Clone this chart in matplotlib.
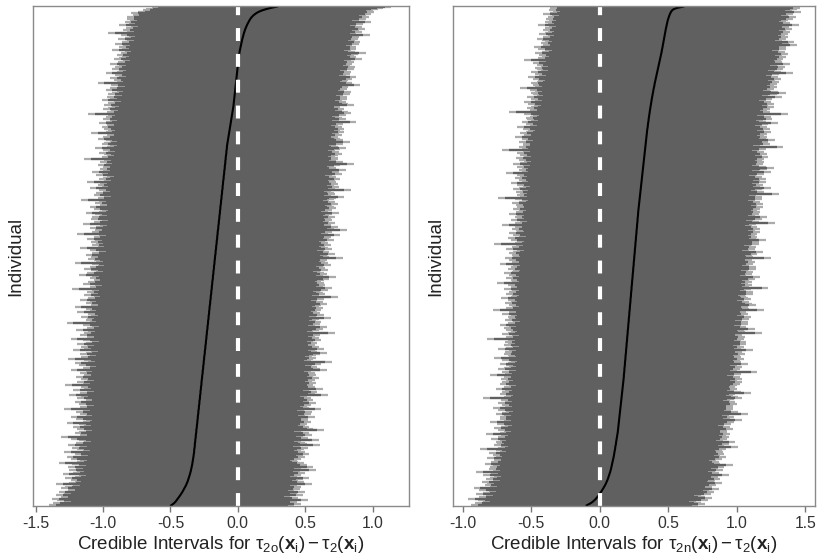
import numpy as np
import matplotlib.pyplot as plt

plt.rcParams['font.family'] = ['Liberation Sans', 'DejaVu Sans']
plt.rcParams['mathtext.fontset'] = 'custom'
plt.rcParams['mathtext.rm'] = 'Liberation Sans'
plt.rcParams['mathtext.it'] = 'Liberation Sans:italic'
plt.rcParams['mathtext.bf'] = 'Liberation Sans:bold'

# individuals sorted by posterior mean, bottom -> top
# bounds in hundredths, means in thousandths
left_lower = [
    -140, -133, -137, -129, -134, -138, -128, -131, -135, -127,
    -129, -133, -126, -124, -131, -128, -122, -135, -125, -121,
    -124, -119, -128, -121, -118, -130, -122, -119, -125, -117,
    -120, -126, -118, -123, -133, -119, -117, -124, -120, -127,
    -116, -121, -118, -129, -115, -119, -123, -117, -126, -116,
    -120, -114, -118, -124, -116, -131, -117, -115, -121, -118,
    -113, -119, -116, -122, -114, -118, -127, -115, -113, -120,
    -116, -124, -113, -117, -112, -120, -115, -129, -114, -117,
    -112, -118, -115, -121, -113, -111, -119, -116, -125, -114,
    -117, -112, -122, -114, -111, -116, -128, -113, -115, -119,
    -112, -116, -110, -120, -114, -111, -117, -113, -124, -112,
    -115, -110, -118, -113, -121, -111, -114, -126, -112, -116,
    -110, -117, -113, -109, -122, -114, -111, -116, -112, -119,
    -113, -108, -115, -124, -110, -112, -117, -109, -114, -111,
    -120, -109, -112, -108, -115, -111, -127, -110, -113, -108,
    -112, -116, -109, -111, -107, -119, -110, -113, -108, -121,
    -109, -106, -113, -110, -117, -108, -111, -107, -114, -109,
    -105, -112, -108, -123, -107, -110, -106, -115, -109, -111,
    -107, -104, -110, -108, -118, -106, -112, -105, -109, -114,
    -106, -110, -104, -108, -121, -105, -107, -111, -104, -109,
    -113, -105, -108, -103, -110, -106, -117, -104, -108, -105,
    -102, -109, -106, -112, -104, -107, -103, -119, -105, -108,
    -106, -103, -110, -105, -102, -115, -104, -107, -101, -109,
    -104, -108, -102, -106, -113, -103, -101, -107, -104, -110,
    -102, -100, -106, -103, -116, -101, -104, -99, -107, -102,
    -105, -100, -103, -98, -110, -101, -104, -99, -102, -112,
    -99, -103, -100, -97, -105, -101, -98, -108, -100, -102,
    -97, -100, -104, -98, -96, -102, -99, -114, -98, -101,
    -97, -99, -103, -96, -100, -98, -106, -97, -95, -101,
    -99, -95, -98, -104, -96, -100, -97, -94, -109, -98,
    -96, -99, -95, -101, -97, -94, -103, -98, -95, -100,
    -93, -98, -96, -111, -95, -97, -94, -100, -96, -93,
    -99, -94, -96, -92, -101, -95, -93, -97, -91, -96,
    -93, -90, -98, -92, -95, -89, -94, -91, -104, -90,
    -92, -89, -95, -88, -91, -87, -98, -90, -88, -93,
    -86, -91, -88, -95, -87, -89, -85, -92, -88, -86,
    -90, -85, -87, -84, -93, -86, -83, -88, -85, -91,
    -83, -86, -82, -89, -84, -81, -87, -83, -96, -82,
    -85, -80, -83, -79, -88, -81, -78, -84, -80, -82,
    -77, -82, -78, -75, -79, -74, -70, -68, -64, -60,
]
left_upper = [
    42, 47, 40, 44, 52, 41, 45, 39, 48, 43,
    44, 50, 42, 46, 41, 47, 44, 55, 43, 49,
    45, 48, 53, 44, 47, 42, 50, 46, 58, 45,
    47, 56, 51, 46, 49, 45, 44, 47, 43, 50,
    48, 53, 46, 50, 47, 49, 52, 46, 61, 51,
    50, 47, 60, 49, 52, 48, 55, 50, 53, 47,
    64, 56, 49, 53, 50, 51, 48, 54, 52, 50,
    52, 57, 50, 54, 51, 55, 49, 62, 53, 51,
    54, 50, 58, 53, 56, 52, 54, 51, 67, 57,
    55, 59, 53, 63, 54, 57, 56, 52, 58, 55,
    57, 53, 60, 56, 58, 55, 57, 54, 66, 61,
    56, 59, 55, 62, 57, 70, 54, 56, 58, 55,
    58, 61, 66, 59, 57, 64, 55, 60, 57, 56,
    59, 56, 62, 58, 60, 57, 61, 59, 72, 56,
    60, 63, 58, 66, 57, 61, 59, 62, 58, 60,
    69, 58, 64, 60, 61, 59, 62, 57, 63, 60,
    62, 66, 61, 63, 59, 64, 62, 74, 60, 65,
    63, 61, 67, 62, 70, 63, 65, 61, 64, 62,
    64, 68, 62, 73, 63, 66, 64, 61, 67, 65,
    65, 63, 69, 64, 67, 65, 66, 64, 78, 68,
    66, 72, 65, 68, 64, 70, 67, 65, 69, 66,
    67, 65, 71, 68, 66, 69, 76, 67, 64, 70,
    81, 71, 67, 74, 69, 66, 72, 68, 70, 69,
    69, 72, 68, 70, 75, 67, 70, 68, 73, 71,
    70, 74, 69, 72, 68, 71, 73, 79, 69, 72,
    71, 69, 84, 72, 70, 75, 71, 74, 70, 73,
    72, 76, 71, 73, 70, 77, 72, 75, 80, 71,
    73, 71, 76, 86, 72, 78, 73, 74, 74, 72,
    74, 77, 73, 75, 72, 76, 80, 74, 73, 78,
    75, 83, 78, 76, 73, 74, 77, 75, 72, 79,
    76, 79, 75, 77, 74, 78, 76, 88, 75, 80,
    77, 75, 80, 78, 84, 82, 77, 79, 76, 76,
    86, 82, 78, 80, 77, 81, 79, 81, 78, 83,
    80, 84, 79, 81, 80, 82, 91, 79, 85, 81,
    82, 85, 81, 88, 80, 83, 82, 84, 81, 86,
    84, 87, 83, 85, 82, 86, 84, 92, 83, 88,
    86, 89, 95, 87, 84, 88, 86, 88, 85, 90,
    88, 91, 87, 89, 86, 90, 98, 88, 87, 92,
    90, 94, 89, 92, 88, 93, 91, 99, 90, 95,
    93, 97, 95, 99, 96, 101, 100, 104, 108, 114,
]
left_mean = [
    -495, -482, -471, -462, -455, -447, -440, -434, -428, -422,
    -416, -410, -405, -400, -395, -390, -385, -381, -377, -373,
    -370, -367, -364, -361, -358, -355, -353, -350, -348, -346,
    -344, -342, -340, -338, -337, -335, -334, -332, -331, -329,
    -328, -327, -325, -324, -324, -323, -321, -320, -319, -319,
    -318, -316, -316, -315, -313, -312, -312, -311, -309, -308,
    -308, -307, -305, -304, -304, -302, -301, -300, -300, -298,
    -297, -297, -296, -294, -293, -293, -292, -290, -289, -289,
    -288, -286, -285, -285, -284, -282, -281, -281, -280, -278,
    -277, -277, -276, -274, -274, -273, -271, -270, -270, -269,
    -268, -267, -265, -265, -264, -262, -261, -261, -260, -258,
    -257, -257, -256, -254, -253, -253, -252, -250, -250, -249,
    -248, -246, -245, -245, -244, -242, -241, -241, -240, -238,
    -237, -237, -236, -234, -233, -233, -232, -230, -230, -229,
    -228, -226, -225, -225, -224, -222, -221, -221, -220, -218,
    -217, -217, -216, -214, -213, -213, -212, -210, -210, -209,
    -208, -206, -205, -205, -204, -202, -201, -201, -200, -198,
    -197, -197, -196, -194, -193, -193, -192, -190, -190, -189,
    -188, -186, -185, -185, -184, -182, -181, -181, -180, -178,
    -177, -177, -176, -174, -173, -173, -172, -170, -170, -169,
    -168, -166, -165, -165, -164, -162, -161, -161, -160, -158,
    -157, -157, -156, -154, -153, -153, -152, -150, -150, -149,
    -148, -146, -145, -145, -144, -142, -141, -141, -140, -138,
    -137, -137, -136, -134, -133, -133, -132, -130, -130, -129,
    -128, -126, -125, -125, -124, -122, -121, -121, -120, -118,
    -117, -117, -116, -114, -113, -113, -112, -110, -110, -109,
    -108, -106, -105, -105, -104, -102, -101, -101, -100, -98,
    -97, -97, -96, -94, -93, -93, -92, -90, -90, -89,
    -88, -86, -85, -85, -84, -82, -81, -81, -80, -78,
    -77, -75, -74, -72, -71, -69, -68, -66, -65, -63,
    -62, -60, -59, -57, -56, -54, -53, -51, -50, -48,
    -47, -45, -44, -42, -41, -39, -38, -36, -35, -33,
    -32, -31, -30, -29, -28, -27, -26, -25, -24, -23,
    -22, -21, -20, -19, -18, -17, -16, -15, -14, -13,
    -12, -11, -10, -9, -8, -7, -6, -5, -4, -3,
    -2, -1, 0, 1, 2, 3, 4, 5, 7, 8,
    9, 10, 12, 13, 15, 17, 19, 21, 23, 25,
    27, 29, 31, 33, 36, 38, 41, 43, 46, 49,
    52, 55, 59, 63, 67, 71, 76, 81, 86, 92,
    98, 106, 115, 127, 140, 158, 180, 210, 245, 290,
]

right_lower = [
    -94, -87, -91, -85, -89, -96, -84, -88, -83, -90,
    -85, -81, -88, -83, -92, -80, -84, -82, -79, -86,
    -78, -83, -80, -77, -85, -79, -76, -90, -78, -81,
    -76, -80, -78, -84, -75, -79, -77, -74, -82, -76,
    -78, -74, -81, -73, -76, -87, -74, -72, -77, -75,
    -72, -76, -73, -79, -71, -74, -72, -83, -73, -70,
    -74, -71, -77, -72, -69, -75, -71, -80, -70, -73,
    -69, -73, -70, -76, -71, -68, -74, -70, -78, -69,
    -71, -68, -74, -69, -72, -67, -85, -70, -68, -73,
    -67, -71, -69, -76, -68, -70, -66, -73, -69, -71,
    -68, -72, -66, -70, -80, -67, -69, -71, -66, -74,
    -70, -66, -68, -73, -67, -65, -71, -68, -77, -66,
    -67, -70, -65, -69, -66, -74, -68, -64, -70, -67,
    -65, -69, -67, -82, -66, -68, -64, -71, -67, -65,
    -68, -64, -70, -66, -73, -65, -67, -63, -69, -66,
    -64, -67, -65, -71, -63, -66, -78, -65, -68, -64,
    -66, -63, -69, -65, -67, -62, -72, -65, -64, -68,
    -63, -66, -64, -70, -62, -65, -67, -63, -75, -64,
    -65, -62, -68, -64, -66, -61, -70, -64, -63, -67,
    -62, -65, -63, -73, -61, -64, -66, -62, -69, -63,
    -64, -61, -66, -63, -60, -68, -62, -64, -61, -77,
    -62, -60, -65, -61, -67, -59, -63, -61, -66, -60,
    -61, -64, -59, -62, -71, -60, -62, -58, -65, -60,
    -59, -62, -60, -66, -58, -61, -59, -63, -57, -60,
    -61, -58, -64, -59, -57, -62, -74, -58, -60, -57,
    -58, -61, -57, -63, -59, -56, -60, -58, -65, -57,
    -59, -56, -62, -58, -60, -55, -68, -57, -59, -56,
    -57, -60, -56, -63, -58, -55, -59, -57, -61, -55,
    -58, -55, -60, -56, -71, -57, -55, -59, -56, -54,
    -56, -59, -54, -57, -53, -62, -55, -53, -58, -54,
    -52, -56, -53, -60, -51, -54, -52, -57, -50, -53,
    -54, -51, -49, -55, -50, -66, -51, -49, -53, -50,
    -48, -52, -49, -55, -47, -50, -48, -53, -46, -49,
    -50, -47, -51, -46, -58, -47, -49, -45, -50, -46,
    -45, -49, -46, -52, -44, -47, -45, -50, -43, -46,
    -47, -43, -46, -42, -49, -44, -55, -43, -45, -42,
    -44, -41, -47, -42, -40, -45, -42, -48, -41, -39,
    -43, -40, -42, -46, -39, -41, -38, -44, -40, -38,
    -41, -38, -40, -37, -45, -38, -36, -40, -37, -39,
    -36, -38, -35, -41, -36, -34, -37, -33, -36, -32,
]
right_upper = [
    72, 77, 74, 70, 79, 75, 82, 77, 74, 81,
    78, 83, 80, 87, 79, 82, 85, 81, 89, 83,
    84, 88, 83, 86, 94, 85, 87, 84, 90, 86,
    86, 91, 97, 88, 84, 87, 85, 89, 86, 92,
    88, 91, 87, 90, 89, 92, 88, 101, 91, 94,
    91, 99, 90, 93, 89, 94, 92, 95, 91, 93,
    93, 97, 92, 95, 91, 96, 94, 98, 104, 93,
    95, 98, 94, 108, 93, 101, 96, 97, 95, 97,
    97, 100, 96, 99, 95, 98, 104, 101, 97, 99,
    110, 103, 98, 100, 96, 99, 100, 102, 99, 104,
    100, 104, 99, 102, 98, 103, 101, 115, 100, 102,
    101, 104, 100, 108, 99, 103, 102, 105, 101, 103,
    102, 106, 101, 104, 112, 100, 103, 105, 102, 107,
    104, 107, 103, 105, 101, 106, 104, 103, 118, 106,
    105, 113, 104, 107, 103, 108, 106, 108, 104, 109,
    106, 110, 105, 108, 104, 107, 120, 109, 105, 108,
    114, 111, 106, 109, 105, 110, 108, 107, 106, 112,
    108, 112, 107, 110, 123, 109, 111, 108, 106, 111,
    109, 113, 108, 117, 107, 111, 110, 112, 108, 114,
    110, 114, 109, 112, 108, 113, 111, 110, 125, 112,
    111, 115, 110, 119, 109, 113, 112, 114, 110, 116,
    112, 116, 121, 114, 110, 115, 113, 115, 111, 117,
    113, 117, 112, 115, 111, 114, 128, 116, 112, 118,
    114, 122, 113, 116, 112, 117, 115, 117, 113, 119,
    115, 119, 114, 117, 113, 118, 116, 118, 114, 131,
    116, 120, 115, 118, 125, 117, 119, 116, 115, 121,
    117, 121, 116, 118, 114, 120, 117, 125, 116, 122,
    127, 121, 116, 119, 115, 120, 118, 120, 116, 123,
    118, 122, 117, 120, 116, 121, 119, 134, 117, 124,
    119, 123, 128, 121, 117, 122, 120, 122, 118, 125,
    120, 124, 119, 122, 118, 123, 130, 121, 119, 126,
    121, 125, 120, 137, 119, 124, 122, 124, 120, 127,
    123, 127, 122, 125, 121, 126, 124, 133, 123, 129,
    136, 130, 124, 127, 123, 129, 127, 129, 125, 131,
    128, 132, 127, 130, 126, 131, 141, 132, 128, 134,
    130, 135, 129, 139, 128, 133, 132, 134, 130, 136,
    133, 137, 132, 135, 131, 136, 134, 136, 144, 138,
    134, 142, 133, 136, 132, 137, 135, 137, 134, 139,
    136, 140, 135, 138, 145, 137, 139, 136, 137, 141,
    138, 143, 137, 141, 139, 147, 140, 144, 146, 142,
]
right_mean = [
    -95, -78, -62, -50, -40, -30, -22, -15, -8, -1,
    5, 11, 17, 22, 28, 33, 38, 43, 47, 51,
    55, 59, 62, 65, 68, 71, 74, 77, 79, 82,
    84, 86, 88, 90, 92, 94, 96, 98, 100, 102,
    104, 105, 107, 108, 110, 112, 113, 114, 116, 118,
    119, 120, 122, 123, 125, 126, 128, 129, 131, 132,
    133, 134, 135, 136, 137, 138, 139, 140, 141, 142,
    143, 144, 145, 146, 147, 148, 149, 150, 151, 152,
    153, 154, 155, 156, 157, 158, 159, 160, 161, 162,
    163, 164, 165, 166, 167, 168, 169, 170, 171, 172,
    173, 174, 175, 176, 176, 177, 178, 179, 180, 180,
    181, 182, 183, 184, 184, 185, 186, 187, 188, 188,
    189, 190, 191, 192, 192, 193, 194, 195, 196, 196,
    197, 198, 199, 200, 200, 201, 202, 203, 204, 204,
    205, 206, 207, 208, 208, 209, 210, 211, 212, 212,
    213, 214, 215, 216, 216, 217, 218, 219, 220, 220,
    221, 222, 223, 224, 224, 225, 226, 227, 228, 228,
    229, 230, 231, 232, 232, 233, 234, 235, 236, 236,
    237, 238, 239, 240, 240, 241, 242, 243, 244, 244,
    245, 246, 247, 248, 248, 249, 250, 251, 252, 252,
    253, 254, 255, 256, 256, 257, 258, 259, 260, 260,
    261, 262, 263, 264, 264, 265, 266, 267, 268, 268,
    269, 270, 271, 272, 272, 273, 274, 275, 276, 276,
    277, 278, 279, 280, 280, 281, 282, 283, 284, 285,
    286, 287, 288, 289, 290, 291, 292, 293, 294, 295,
    296, 297, 298, 299, 300, 301, 302, 303, 304, 305,
    306, 307, 308, 309, 310, 311, 312, 313, 314, 315,
    316, 317, 318, 319, 320, 321, 322, 323, 324, 325,
    326, 327, 328, 329, 330, 331, 332, 333, 334, 335,
    336, 337, 338, 339, 340, 341, 342, 343, 344, 345,
    346, 347, 349, 350, 351, 352, 353, 355, 356, 357,
    358, 360, 361, 362, 364, 365, 366, 368, 369, 371,
    372, 374, 375, 377, 378, 380, 381, 383, 385, 386,
    388, 390, 391, 393, 395, 397, 399, 400, 402, 404,
    406, 408, 410, 412, 414, 416, 418, 420, 422, 424,
    426, 428, 430, 432, 434, 436, 438, 440, 442, 444,
    446, 448, 450, 452, 453, 455, 457, 459, 460, 462,
    464, 465, 467, 469, 470, 472, 474, 475, 477, 479,
    480, 482, 484, 486, 488, 490, 492, 494, 496, 499,
    502, 505, 508, 512, 516, 521, 528, 540, 565, 610,
]

left_ticks = [-1.5, -1.0, -0.5, 0.0, 0.5, 1.0]
right_ticks = [-1.0, -0.5, 0.0, 0.5, 1.0, 1.5]
left_label = (r'Credible Intervals for $\mathrm{τ}_{\mathrm{2o}}(\mathbf{x}_{\mathrm{i}})'
              r' - \mathrm{τ}_{\mathrm{2}}(\mathbf{x}_{\mathrm{i}})$')
right_label = (r'Credible Intervals for $\mathrm{τ}_{\mathrm{2n}}(\mathbf{x}_{\mathrm{i}})'
               r' - \mathrm{τ}_{\mathrm{2}}(\mathbf{x}_{\mathrm{i}})$')


def plotIntervals(ax, lower, upper, mean, ticks, xlim, xlabel):
    lower = np.array(lower) / 100
    upper = np.array(upper) / 100
    mean = np.array(mean) / 1000
    n = len(mean)
    rank = np.arange(n)

    # lines a bit thicker than the row spacing so the body is solid;
    # a light pass underneath gives the thin ragged ends a paler look
    ax_h_pt = ax.get_position().height * ax.figure.get_figheight() * 72
    lw = 1.8 * ax_h_pt / n
    tip = 0.05
    ax.hlines(rank, lower, upper, color='#ababab', lw=lw)
    ax.hlines(rank, lower + tip, upper - tip, color='#606060', lw=lw)
    ax.plot(mean, rank, color='black', lw=1.5)
    ax.axvline(0, color='white', lw=3, dashes=(3.1, 3.1))

    ax.set_xlim(xlim)
    ax.set_ylim(-0.5, n - 0.5)
    ax.set_yticks([])
    ax.set_xticks(ticks)
    ax.set_xticklabels([('%.1f' % t) for t in ticks])
    ax.tick_params(axis='x', length=4, width=1, color='#777777',
                   labelsize=11.3, labelcolor='#333333', pad=3)
    for s in ax.spines.values():
        s.set_color('#8a8a8a')
        s.set_linewidth(1)
    ax.set_ylabel('Individual', fontsize=13.5, color='#222222', labelpad=6)
    ax.set_xlabel(xlabel, fontsize=13.5, color='#222222', labelpad=2)


fig = plt.figure(figsize=(8.18, 5.56), dpi=100)
ax1 = fig.add_axes([0.0403, 0.0899, 0.4597, 0.8993])
ax2 = fig.add_axes([0.5538, 0.0899, 0.4425, 0.8993])

plotIntervals(ax1, left_lower, left_upper, left_mean, left_ticks, (-1.52, 1.27), left_label)
plotIntervals(ax2, right_lower, right_upper, right_mean, right_ticks, (-1.07, 1.57), right_label)

fig.savefig('out.png', dpi=100)
